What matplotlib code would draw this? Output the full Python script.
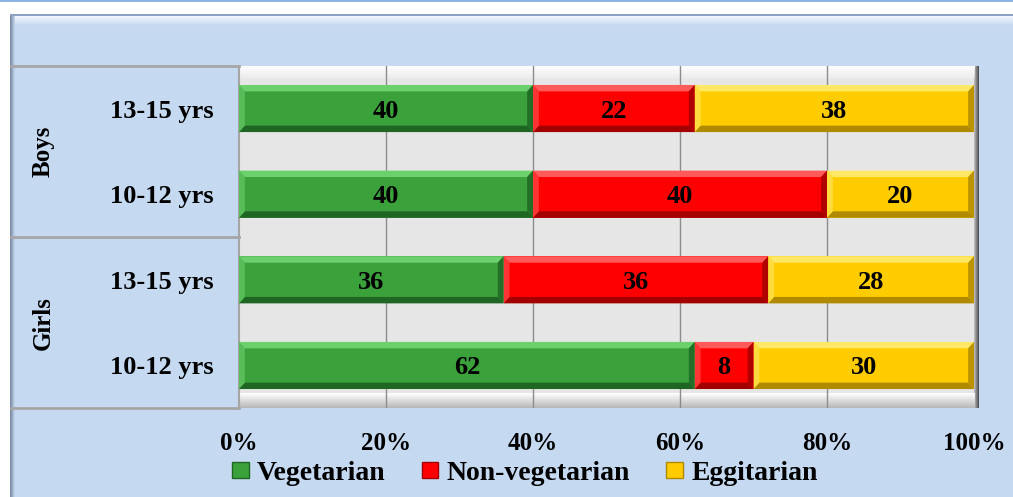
import numpy as np
import matplotlib
matplotlib.use("Agg")
import matplotlib.pyplot as plt
from matplotlib.patches import Polygon, Rectangle
from matplotlib.transforms import blended_transform_factory

# survey shares (%) per group, listed top to bottom
groups = ["Boys", "Girls"]
ages = ["13-15 yrs", "10-12 yrs", "13-15 yrs", "10-12 yrs"]
row_group = ["Boys", "Boys", "Girls", "Girls"]
vegetarian = [40, 40, 36, 62]
non_vegetarian = [22, 40, 36, 8]
eggitarian = [38, 20, 28, 30]
series_names = ["Vegetarian", "Non-vegetarian", "Eggitarian"]
x_ticks = [0, 20, 40, 60, 80, 100]

# base, highlight, shadow
palette = [
    ("#3BA23B", "#6CD06C", "#1F6624"),
    ("#FF0000", "#FF5A5A", "#A30000"),
    ("#FFCC00", "#FFE866", "#B08A00"),
]

plt.rcParams["font.family"] = ["Liberation Serif", "DejaVu Serif"]
plt.rcParams["font.weight"] = "bold"

W, H = 1013, 497
fig = plt.figure(figsize=(W / 100, H / 100), dpi=100)
fig.patch.set_facecolor("white")

# pixel-space backdrop: chart area with bevelled edge
bg = fig.add_axes([0, 0, 1, 1], zorder=0)
bg.set_xlim(0, W)
bg.set_ylim(H, 0)
bg.axis("off")
bg.add_patch(Rectangle((0, 0), W, 2, color="#8EB4E3", lw=0))
bg.add_patch(Rectangle((10, 14), W - 10, H - 14, color="#C5D9F1", lw=0))
top_grad = np.linspace(1, 0, 20)[:, None]
bg.imshow(np.dstack([np.full((20, 1), c) for c in (1, 1, 1)] + [top_grad * 0.85]),
          extent=[14, W, 26, 15], aspect="auto", zorder=1)
left_grad = np.linspace(0, 1, 20)[None, :]
left_rgb = np.dstack([0.45 + 0.32 * left_grad, 0.52 + 0.33 * left_grad,
                      0.62 + 0.32 * left_grad])
bg.imshow(left_rgb, extent=[10, 15, H, 14], aspect="auto", zorder=1)
bg.add_patch(Rectangle((10, 14), W - 10, 1.5, color="#8DA2BF", lw=0, zorder=2))

ax = fig.add_axes([239 / W, 1 - 408.3 / H, 735 / W, (408.3 - 65.7) / H], zorder=1)
ax.set_facecolor("#E6E6E6")

n = len(ages)
ypos = np.arange(n)[::-1]
bar_h = 0.55
bx, by = 0.8, 0.075

series = [vegetarian, non_vegetarian, eggitarian]
left = np.zeros(n)
for vals, (base, light, dark), name in zip(series, palette, series_names):
    vals = np.array(vals, dtype=float)
    ax.barh(ypos, vals, left=left, height=bar_h, color=base, lw=0, zorder=3, label=name)
    for y, l, v in zip(ypos, left, vals):
        r = l + v
        t, b = y + bar_h / 2, y - bar_h / 2
        k = min(bx, v / 2)
        ax.add_patch(Polygon([(l, t), (r, t), (r - k, t - by), (l + k, t - by)],
                             closed=True, color=light, lw=0, zorder=4))
        ax.add_patch(Polygon([(l, b), (r, b), (r - k, b + by), (l + k, b + by)],
                             closed=True, color=dark, lw=0, zorder=4))
        ax.add_patch(Polygon([(l, b), (l, t), (l + k, t - by), (l + k, b + by)],
                             closed=True, color=light, alpha=0.6, lw=0, zorder=4))
        ax.add_patch(Polygon([(r, b), (r, t), (r - k, t - by), (r - k, b + by)],
                             closed=True, color=dark, alpha=0.85, lw=0, zorder=4))
        ax.text(l + v / 2, y, f"{int(v)}", ha="center", va="center_baseline",
                fontsize=19, fontweight="bold", color="black", zorder=5)
    left = left + vals

# white floor strip at the top and shaded strip at the bottom
ax.imshow(np.dstack([np.ones((20, 1))] * 3 + [np.linspace(1, 0.2, 20)[:, None]]),
          extent=[0, 1, 0.962, 1], transform=ax.transAxes, aspect="auto", zorder=0.2)
bot = np.linspace(1.0, 0.72, 20)[:, None]
ax.imshow(np.dstack([bot, bot, bot]), extent=[0, 1, 0, 0.042],
          transform=ax.transAxes, aspect="auto", zorder=0.2)
ax.set_xlim(0, 100)
ax.set_ylim(-0.5, n - 0.5)

for xv in x_ticks[1:-1]:
    ax.axvline(xv, color="#8C8C8C", lw=1, zorder=1)

ax.set_xticks(x_ticks)
ax.set_xticklabels([f"{t}%" for t in x_ticks], fontsize=18, fontweight="bold")
ax.set_yticks(ypos)
ax.set_yticklabels(ages, fontsize=19, fontweight="bold")
ax.tick_params(axis="x", length=0, pad=17)
ax.tick_params(axis="y", length=0, pad=18)
for s in ax.spines.values():
    s.set_visible(False)
ax.spines["left"].set_visible(True)
ax.spines["left"].set_color("#A6A6A6")
ax.spines["left"].set_linewidth(1.5)

# right wall shading
wall = np.linspace(0.75, 0.3, 10)[None, :]
bg.imshow(np.dstack([wall, wall, wall]), extent=[974, 979, 408, 66],
          aspect="auto", zorder=3)

# group panel: separators and rotated group names
tr = blended_transform_factory(ax.transAxes, ax.transData)
row_group_arr = np.array(row_group)
bounds = [n - 0.5]
for g in groups:
    idx = np.where(row_group_arr == g)[0]
    ys = ypos[idx]
    bounds.append(ys.min() - 0.5)
    ax.text(-0.267, ys.mean(), g, transform=tr, rotation=90, ha="center",
            va="center", fontsize=18, fontweight="bold")
for yb in bounds:
    ax.plot([-0.31, 0], [yb, yb], transform=tr, color="#A6A6A6", lw=2,
            clip_on=False, zorder=2)

handles = [Rectangle((0, 0), 1, 1, facecolor=p[0], edgecolor=p[2], lw=1)
           for p in palette]
fig.legend(handles, series_names, loc="center", bbox_to_anchor=(0.518, 0.048),
           ncol=3, frameon=False, prop={"size": 20, "weight": "bold"},
           handlelength=0.6, handleheight=0.5, handletextpad=0.3,
           columnspacing=1.3)

fig.savefig("out.png", dpi=100, facecolor=fig.get_facecolor())
